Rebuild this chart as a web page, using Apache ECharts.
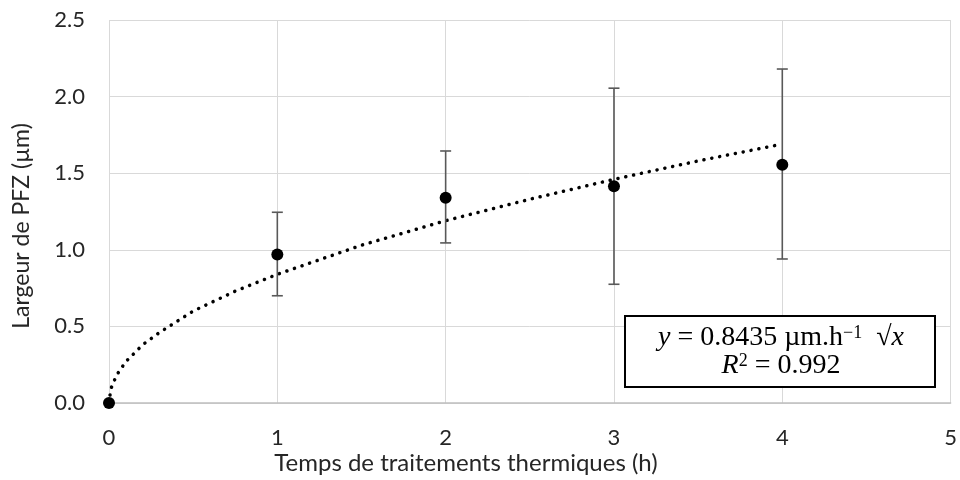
<!DOCTYPE html>
<html>
<head>
<meta charset="utf-8">
<script src="https://cdn.jsdelivr.net/npm/echarts@6/dist/echarts.min.js"></script>
<style>html,body{margin:0;padding:0;background:#fff}#c{width:960px;height:480px}</style>
</head>
<body>
<div id="c"></div>
<script>
// Measured data (hours, µm)
const times = [0, 1, 2, 3, 4];
const widths = [0, 0.97, 1.34, 1.415, 1.555];
const errLow = [0, 0.70, 1.045, 0.775, 0.94];
const errHigh = [0, 1.245, 1.645, 2.055, 2.18];
// Trend curve
const trendX = [0, 0.01, 0.02, 0.05, 0.1, 0.2, 0.3, 0.5, 0.75, 1, 1.5, 2, 2.5, 3, 3.5, 4];
const trendY = [0, 0.085, 0.12, 0.19, 0.27, 0.38, 0.46, 0.60, 0.73, 0.84, 1.03, 1.19, 1.33, 1.46, 1.58, 1.69];
const xTicks = [0, 1, 2, 3, 4, 5];
const yTicks = [0, 0.5, 1.0, 1.5, 2.0, 2.5];

const font = 'Lato, "Open Sans", sans-serif';
const serif = '"Liberation Serif", "DejaVu Serif", serif';
const chart = echarts.init(document.getElementById('c'), null, {renderer: 'canvas'});

const points = times.map((t, i) => [t, widths[i]]);
const bars = times.map((t, i) => [t, errLow[i], errHigh[i]]).filter(d => d[2] > d[1]);
const trend = trendX.map((x, i) => [x, trendY[i]]);

chart.setOption({
  animation: false,
  grid: {left: 109, right: 8, top: 20, bottom: 77},
  xAxis: {
    type: 'value', min: xTicks[0], max: xTicks[xTicks.length - 1], interval: 1,
    axisLine: {show: true, lineStyle: {color: '#bfbfbf', width: 1.5}},
    axisTick: {show: false},
    axisLabel: {color: '#262626', fontFamily: font, fontSize: 22, margin: 24},
    splitLine: {show: true, lineStyle: {color: '#d9d9d9', width: 1}}
  },
  yAxis: {
    type: 'value', min: yTicks[0], max: yTicks[yTicks.length - 1], interval: 0.5,
    axisLine: {show: false},
    axisTick: {show: false},
    axisLabel: {color: '#262626', fontFamily: font, fontSize: 22, margin: 24,
      formatter: v => v.toFixed(1)},
    splitLine: {show: true, lineStyle: {color: '#d9d9d9', width: 1}}
  },
  graphic: [
    {type: 'text', position: [466, 463], style: {text: 'Temps de traitements thermiques (h)', fill: '#262626',
      font: '24px ' + font, textAlign: 'center', textVerticalAlign: 'middle'}},
    {type: 'text', rotation: Math.PI / 2, position: [22, 226], style: {text: 'Largeur de PFZ (µm)', fill: '#262626',
      font: '23px ' + font, textAlign: 'center', textVerticalAlign: 'middle'}},
    {type: 'rect', shape: {x: 625, y: 316, width: 310, height: 71},
      style: {fill: '#fff', stroke: '#000', lineWidth: 2}, z: 100},
    {type: 'text', z: 101, position: [781, 352], style: {
      rich: {
        i: {fontFamily: serif, fontStyle: 'italic', fontSize: 28, fill: '#000'},
        n: {fontFamily: serif, fontSize: 28, fill: '#000'},
        s: {fontFamily: serif, fontSize: 18, fill: '#000', verticalAlign: 'top', padding: [0, 0, 10, 0]}
      },
      text: '{i|y}{n| = 0.8435 µm.h}{s|−1}{n|  √}{i|x}\n{i|R}{s|2}{n| = 0.992}',
      textAlign: 'center', textVerticalAlign: 'middle', lineHeight: 28, align: 'center'
    }}
  ],
  series: [
    {
      type: 'line', data: trend, showSymbol: false, symbol: 'none', smooth: false, z: 3,
      lineStyle: {color: '#000', width: 3.5, type: [0.1, 7.9], cap: 'round'}
    },
    {
      type: 'custom', data: bars, z: 4,
      renderItem: (params, api) => {
        const x = api.value(0);
        const lo = api.coord([x, api.value(1)]);
        const hi = api.coord([x, api.value(2)]);
        const w = 5.5;
        const st = {stroke: '#595959', lineWidth: 1.6};
        return {type: 'group', children: [
          {type: 'line', shape: {x1: lo[0], y1: lo[1], x2: hi[0], y2: hi[1]}, style: st},
          {type: 'line', shape: {x1: lo[0] - w, y1: lo[1], x2: lo[0] + w, y2: lo[1]}, style: st},
          {type: 'line', shape: {x1: hi[0] - w, y1: hi[1], x2: hi[0] + w, y2: hi[1]}, style: st}
        ]};
      }
    },
    {
      type: 'scatter', data: points, symbol: 'circle', symbolSize: 12, clip: false, z: 5,
      itemStyle: {color: '#000', opacity: 1}
    }
  ]
});
</script>
</body>
</html>
